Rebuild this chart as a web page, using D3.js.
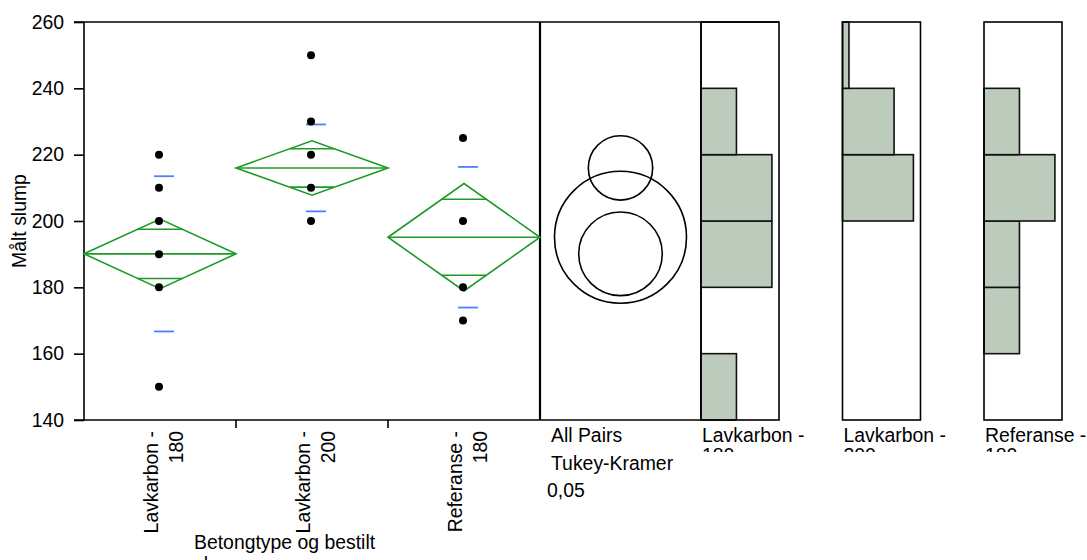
<!DOCTYPE html>
<html>
<head>
<meta charset="utf-8">
<script src="https://cdn.jsdelivr.net/npm/d3@7"></script>
<style>
  html, body { margin: 0; padding: 0; background: #fff; }
  svg { display: block; }
  text { font-family: "Liberation Sans", Arial, sans-serif; fill: #000; }
</style>
</head>
<body>
<svg id="chart" width="1087" height="560"></svg>
<script>
// ---- data ----
const groups = ["Lavkarbon - 180", "Lavkarbon - 200", "Referanse - 180"];
const groupLines = [["Lavkarbon -", "180"], ["Lavkarbon -", "200"], ["Referanse -", "180"]];
const points = [
  [220, 210, 200, 190, 180, 150],
  [250, 230, 220, 210, 200],
  [225, 200, 180, 170]
];
const means = [190.1, 216.0, 195.1];
const ciHalf = [10.5, 8.2, 16.2];
const stdDev = [23.4, 13.1, 21.2];
const circleRadius = [12.6, 9.7, 19.9];
const binEdges = [140, 160, 180, 200, 220, 240, 260];
const histCounts = [
  [1, 0, 2, 2, 1, 0],
  [0, 0, 0, 11, 8, 1],
  [0, 1, 1, 2, 1, 0]
];
const yTicks = [140, 160, 180, 200, 220, 240, 260];
const yTitle = "Målt slump";
const xTitleLines = ["Betongtype og bestilt", "slump"];
const compLines = ["All Pairs", "Tukey-Kramer", "0,05"];

// ---- layout ----
const svg = d3.select("#chart");
const plotTop = 22, plotBottom = 420;
const plotL = 84, plotR = 540;
const circL = 540, circR = 701;
const histLeft0 = 701, histW = 78, histStep = 141.5;
const fs = 19.4;

const y = d3.scaleLinear().domain([140, 260]).range([plotBottom, plotTop]);
const x = d3.scaleBand().domain(groups).range([plotL, plotR]);

const green = "#1f9a26";
const blue = "#4d80ff";

// frame lines
const frame = svg.append("g").attr("fill", "none").attr("stroke", "#000");
frame.append("line").attr("x1", plotL).attr("x2", circR + histW).attr("y1", plotTop).attr("y2", plotTop).attr("stroke-width", 1.6);
frame.append("line").attr("x1", plotR).attr("x2", plotR).attr("y1", plotTop).attr("y2", plotBottom).attr("stroke-width", 2.2);
frame.append("line").attr("x1", circR).attr("x2", circR).attr("y1", plotTop).attr("y2", plotBottom).attr("stroke-width", 1.6);
frame.append("line").attr("x1", plotR).attr("x2", circR).attr("y1", plotBottom).attr("y2", plotBottom).attr("stroke-width", 1.6);

// y axis
const yAxis = d3.axisLeft(y).tickValues(yTicks).tickSize(10).tickPadding(10);
const gy = svg.append("g").attr("transform", `translate(${plotL},0)`).call(yAxis);
gy.select(".domain").attr("stroke-width", 1.6).attr("d", `M-10,${plotTop}H0V${plotBottom}H-10`);
gy.selectAll(".tick line").attr("stroke-width", 1.6);
gy.selectAll(".tick text").attr("font-size", fs).attr("font-family", '"Liberation Sans", Arial, sans-serif').attr("fill", "#000");

// x axis line with ticks at the category boundaries
svg.append("line").attr("x1", plotL).attr("x2", plotR).attr("y1", plotBottom).attr("y2", plotBottom)
  .attr("stroke", "#000").attr("stroke-width", 1.6);
svg.append("g").selectAll("line").data(groups.slice(1)).join("line")
  .attr("x1", d => x(d)).attr("x2", d => x(d))
  .attr("y1", plotBottom).attr("y2", plotBottom + 8)
  .attr("stroke", "#000").attr("stroke-width", 1.6);

// rotated category labels
groups.forEach((g, i) => {
  const cx = x(g) + x.bandwidth() / 2;
  const t = svg.append("text")
    .attr("transform", `translate(${cx},${plotBottom + 11}) rotate(-90)`)
    .attr("text-anchor", "end").attr("font-size", fs);
  t.append("tspan").attr("x", 0).attr("y", -2).text(groupLines[i][0]);
  t.append("tspan").attr("x", 0).attr("y", 23).text(groupLines[i][1]);
});

// axis titles
svg.append("text").attr("transform", `translate(26,${(plotTop + plotBottom) / 2}) rotate(-90)`)
  .attr("text-anchor", "middle").attr("font-size", fs).text(yTitle);
const xt = svg.append("text").attr("font-size", fs);
xTitleLines.forEach((l, i) => xt.append("tspan").attr("x", 194).attr("y", 549 + i * 22).text(l));

// means diamonds
const dia = svg.append("g").attr("fill", "none").attr("stroke", green).attr("stroke-width", 1.6);
groups.forEach((g, i) => {
  const x0 = x(g), x1 = x(g) + x.bandwidth(), cx = (x0 + x1) / 2, hw = x.bandwidth() / 2;
  const m = means[i], c = ciHalf[i];
  dia.append("path").attr("d",
    `M${x0},${y(m)}L${cx},${y(m + c)}L${x1},${y(m)}L${cx},${y(m - c)}Z`);
  dia.append("line").attr("x1", x0).attr("x2", x1).attr("y1", y(m)).attr("y2", y(m));
  const d = c / Math.SQRT2, f = 1 - d / c;
  [m + d, m - d].forEach(v => {
    dia.append("line").attr("x1", cx - hw * f).attr("x2", cx + hw * f)
      .attr("y1", y(v)).attr("y2", y(v));
  });
});

// standard deviation marks
const sd = svg.append("g").attr("stroke", blue).attr("stroke-width", 1.8);
groups.forEach((g, i) => {
  const cx = x(g) + x.bandwidth() / 2;
  [means[i] + stdDev[i], means[i] - stdDev[i]].forEach(v => {
    sd.append("line").attr("x1", cx - 6).attr("x2", cx + 14).attr("y1", y(v)).attr("y2", y(v));
  });
});

// data points
groups.forEach((g, i) => {
  const cx = x(g) + x.bandwidth() / 2 - 1;
  svg.append("g").selectAll("circle").data(points[i]).join("circle")
    .attr("cx", cx).attr("cy", d => y(d)).attr("r", 4).attr("fill", "#000");
});

// comparison circles
const ccx = (circL + circR) / 2;
const pxPerUnit = y(0) - y(1);
svg.append("g").selectAll("circle").data(groups).join("circle")
  .attr("cx", ccx).attr("cy", (d, i) => y(means[i]))
  .attr("r", (d, i) => circleRadius[i] * pxPerUnit)
  .attr("fill", "none").attr("stroke", "#000").attr("stroke-width", 1.6);

const ct = svg.append("text").attr("font-size", fs);
compLines.forEach((l, i) => ct.append("tspan").attr("x", i === 2 ? 547 : 551).attr("y", 442 + i * 27.5).text(l));

// histograms
const defs = svg.append("defs");
defs.append("clipPath").attr("id", "labelClip").append("rect")
  .attr("x", 690).attr("y", 420).attr("width", 397).attr("height", 32);

groups.forEach((g, i) => {
  const px = histLeft0 + i * histStep;
  const counts = histCounts[i];
  const w = d3.scaleLinear().domain([0, d3.max(counts) * 1.1]).range([0, histW]);
  const bins = counts.map((c, k) => ({ c, lo: binEdges[k], hi: binEdges[k + 1] })).filter(b => b.c > 0);
  svg.append("g").selectAll("rect").data(bins).join("rect")
    .attr("x", px).attr("y", b => y(b.hi))
    .attr("width", b => w(b.c)).attr("height", b => y(b.lo) - y(b.hi))
    .attr("fill", "#bccbbc").attr("stroke", "#111").attr("stroke-width", 1.6);
  svg.append("rect").attr("x", px).attr("y", plotTop).attr("width", histW).attr("height", plotBottom - plotTop)
    .attr("fill", "none").attr("stroke", "#000").attr("stroke-width", 1.6);
  const lt = svg.append("text").attr("font-size", fs).attr("clip-path", "url(#labelClip)");
  lt.append("tspan").attr("x", px + 1).attr("y", 442).text(groupLines[i][0]);
  lt.append("tspan").attr("x", px + 1).attr("y", 462).text(groupLines[i][1]);
});
</script>
</body>
</html>
